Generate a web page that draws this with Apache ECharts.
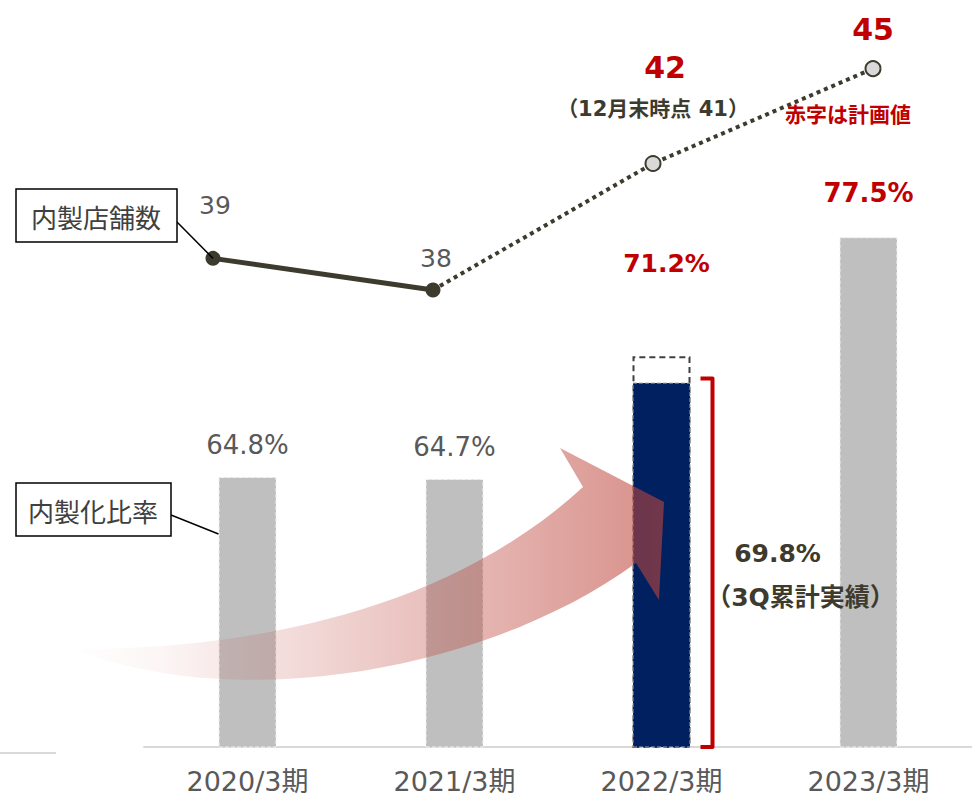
<!DOCTYPE html>
<html>
<head>
<meta charset="utf-8">
<script src="https://cdn.jsdelivr.net/npm/echarts@6/dist/echarts.min.js"></script>
<style>
  html, body { margin: 0; padding: 0; background: #fff; }
  #chart { width: 972px; height: 804px; }
</style>
</head>
<body>
<div id="chart"></div>
<script>
var categories = ['2020/3期', '2021/3期', '2022/3期', '2023/3期'];
var ratioActual = [64.8, 64.7, '-', 77.5];   // 内製化比率 (gray)
var ratioPlan = ['-', '-', 71.2, '-'];       // 2022 plan (dashed outline)
var ratio3Q = ['-', '-', 69.8, '-'];         // 3Q累計実績 (navy)
var storesActual = [39, 38, '-', '-'];       // 内製店舗数
var storesPlan = ['-', 38, 42, 45];
var storesDec = 41;                          // 12月末時点

(function() {
  var font = "'DejaVu Sans', 'Noto Sans CJK JP', sans-serif";
  var ink = '#3d3a2e', gray = '#595959', red = '#c00000', navy = '#002060', barGray = '#bfbfbf';

  var chart = echarts.init(document.getElementById('chart'), null, { renderer: 'svg' });

  var grayData = ratioActual.map(function(v, i) {
    if (i === 3) return { value: v, label: { color: red, fontWeight: 'bold', distance: 31 } };
    return v;
  });
  var solidData = storesActual.map(function(v, i) {
    if (i === 0) return { value: v, label: { distance: 33, offset: [2, 0] } };
    if (i === 1) return { value: v, label: { distance: 12, offset: [3, 0] } };
    return v;
  });
  var dotData = storesPlan.map(function(v, i) {
    if (i === 1) return { value: v, symbolSize: 0, label: { show: false } };
    if (i === 2) return {
      value: v,
      label: { distance: 28, formatter: '{a|' + v + '}\n{b|（12月末時点 ' + storesDec + '）}' }
    };
    if (i === 3) return { value: v, label: { distance: 14, formatter: '{c|' + v + '}' } };
    return v;
  });

  chart.setOption({
    animation: false,
    textStyle: { fontFamily: font },
    grid: [
      { left: 144, width: 832, top: 190, bottom: 57 },
      { left: 213, right: 99, top: 37, bottom: 261 }
    ],
    xAxis: [
      {
        type: 'category', data: categories, gridIndex: 0,
        axisLine: { lineStyle: { color: '#d9d9d9', width: 2 } },
        axisTick: { show: false },
        axisLabel: { color: gray, fontSize: 27, margin: 21, fontFamily: font }
      },
      { type: 'category', data: categories, gridIndex: 1, boundaryGap: false, show: false }
    ],
    yAxis: [
      { type: 'value', gridIndex: 0, min: 50.5, max: 80, show: false, splitLine: { show: false } },
      { type: 'value', gridIndex: 1, min: 30, max: 46, show: false, splitLine: { show: false } }
    ],
    series: [
      {
        name: '内製化比率', type: 'bar', data: grayData, barWidth: 58, barGap: '-100%',
        itemStyle: { color: barGray, borderColor: '#f2f2f2', borderWidth: 1, borderType: 'dashed' },
        label: { show: true, position: 'top', distance: 19, formatter: '{c}%', color: gray, fontSize: 26, fontFamily: font }
      },
      {
        name: '計画', type: 'bar', data: ratioPlan, barWidth: 58, barGap: '-100%',
        itemStyle: { color: 'rgba(255,255,255,0)', borderColor: '#404040', borderWidth: 2, borderType: [6, 4] },
        label: { show: true, position: 'top', distance: 80, offset: [5, 0], formatter: '{c}%', color: red, fontWeight: 'bold', fontSize: 25, fontFamily: font }
      },
      {
        name: '3Q累計実績', type: 'bar', data: ratio3Q, barWidth: 58, barGap: '-100%',
        itemStyle: { color: navy, borderColor: '#a6a6a6', borderWidth: 1, borderType: 'dashed' },
        label: {
          show: true, position: 'right', distance: 22, offset: [0, 10],
          formatter: '{a|{c}%}\n{b|（3Q累計実績）}',
          rich: {
            a: { color: ink, fontWeight: 'bold', fontSize: 25, lineHeight: 44, width: 130, padding: [0, 46, 0, 0], align: 'center', fontFamily: font },
            b: { color: ink, fontWeight: 'bold', fontSize: 25, lineHeight: 44, width: 176, align: 'center', fontFamily: font }
          }
        }
      },
      {
        name: '内製店舗数(計画)', type: 'line', xAxisIndex: 1, yAxisIndex: 1, data: dotData,
        symbol: 'circle', symbolSize: 15,
        lineStyle: { color: ink, width: 4, type: [4, 4], cap: 'butt' },
        itemStyle: { color: '#d9d9d9', borderColor: ink, borderWidth: 2 },
        label: {
          show: true, position: 'top',
          rich: {
            a: { color: red, fontWeight: 'bold', fontSize: 30, lineHeight: 48, padding: [0, 0, 0, 24], fontFamily: font },
            b: { color: ink, fontWeight: 'bold', fontSize: 21, lineHeight: 36, fontFamily: font },
            c: { color: red, fontWeight: 'bold', fontSize: 30, lineHeight: 34, fontFamily: font }
          }
        },
        z: 3
      },
      {
        name: '内製店舗数', type: 'line', xAxisIndex: 1, yAxisIndex: 1, data: solidData,
        symbol: 'circle', symbolSize: 15,
        lineStyle: { color: ink, width: 5 },
        itemStyle: { color: ink },
        label: { show: true, position: 'top', color: gray, fontSize: 25, fontFamily: font },
        z: 4
      }
    ]
  });

  // sample a cubic curve for the decorative arrow outline
  function cubic(p0, p1, p2, p3, n) {
    var pts = [];
    for (var k = 0; k <= n; k++) {
      var t = k / n, u = 1 - t;
      pts.push([
        u * u * u * p0[0] + 3 * u * u * t * p1[0] + 3 * u * t * t * p2[0] + t * t * t * p3[0],
        u * u * u * p0[1] + 3 * u * u * t * p1[1] + 3 * u * t * t * p2[1] + t * t * t * p3[1]
      ]);
    }
    return pts;
  }
  var arrowPts = cubic([73, 649], [250, 650], [450, 610], [583, 487], 30)
    .concat([[560, 448], [664, 502], [659, 600]])
    .concat(cubic([636, 563], [490, 670], [240, 715], [73, 649], 30));

  // annotations anchored to the plotted marks
  var navyTop = chart.convertToPixel({ gridIndex: 0 }, [categories[2], ratio3Q[2]]);
  var base = chart.convertToPixel({ gridIndex: 0 }, [categories[2], 50.5]);
  var bar1 = chart.convertToPixel({ gridIndex: 0 }, [categories[0], ratioActual[0]]);
  var pt39 = chart.convertToPixel({ gridIndex: 1 }, [categories[0], storesActual[0]]);
  var bx = navyTop[0] + 51, by0 = navyTop[1] - 4, by1 = base[1];

  chart.setOption({
    graphic: [
      {
        type: 'polygon', z: 50, silent: true,
        shape: { points: arrowPts },
        style: {
          fill: {
            type: 'linear', x: 0, y: 0, x2: 1, y2: 0,
            colorStops: [
              { offset: 0, color: 'rgba(190,70,60,0)' },
              { offset: 0.15, color: 'rgba(190,70,60,0.05)' },
              { offset: 1, color: 'rgba(190,70,60,0.6)' }
            ]
          }
        }
      },
      {
        type: 'polyline', z: 60, silent: true,
        shape: { points: [[bx - 12, by0], [bx, by0], [bx, by1], [bx - 12, by1]] },
        style: { stroke: red, lineWidth: 4, fill: null, lineJoin: 'round' }
      },
      { type: 'line', z: 5, shape: { x1: 0, y1: 753, x2: 56, y2: 753 }, style: { stroke: '#d9d9d9', lineWidth: 2 } },
      { type: 'line', z: 5, shape: { x1: 177, y1: 222, x2: pt39[0], y2: pt39[1] }, style: { stroke: '#000', lineWidth: 1.5 } },
      { type: 'rect', z: 6, shape: { x: 16, y: 189, width: 161, height: 53 }, style: { fill: '#fff', stroke: '#000', lineWidth: 1.5 } },
      {
        type: 'text', z: 7, x: 96, y: 216,
        style: { text: '内製店舗数', fill: '#404040', font: "26px 'Noto Sans CJK JP'", textAlign: 'center', textVerticalAlign: 'middle' }
      },
      { type: 'line', z: 5, shape: { x1: 171, y1: 515, x2: bar1[0] - 29, y2: 534 }, style: { stroke: '#000', lineWidth: 1.5 } },
      { type: 'rect', z: 6, shape: { x: 16, y: 483, width: 155, height: 53 }, style: { fill: '#fff', stroke: '#000', lineWidth: 1.5 } },
      {
        type: 'text', z: 7, x: 93, y: 510,
        style: { text: '内製化比率', fill: '#404040', font: "26px 'Noto Sans CJK JP'", textAlign: 'center', textVerticalAlign: 'middle' }
      },
      {
        type: 'text', z: 7, x: 848, y: 113,
        style: { text: '赤字は計画値', fill: red, font: "bold 21px 'Noto Sans CJK JP'", textAlign: 'center', textVerticalAlign: 'middle' }
      }
    ]
  });

  window.addEventListener('resize', function() { chart.resize(); });
})();
</script>
</body>
</html>
